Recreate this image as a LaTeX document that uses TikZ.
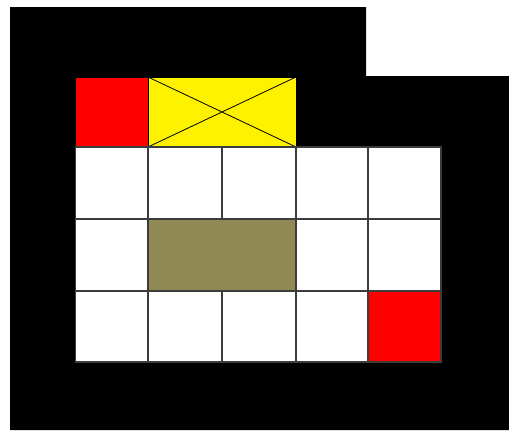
\documentclass[tikz,border=0pt]{standalone}
\definecolor{olive}{RGB}{145,137,83}
\definecolor{gridgray}{RGB}{60,60,60}
\begin{document}
\begin{tikzpicture}[x=1pt,y=-1pt,
  cell/.style={draw=gridgray,line width=1.6pt}]
\useasboundingbox (0,0) rectangle (509,431);
\fill[black] (10,7) -- (366,7) -- (366,76) -- (509,76) -- (509,430) -- (10,430) -- cycle;
% top row
\filldraw[fill=red,draw=black,line width=1pt] (75.5,77) rectangle (148,147);
\filldraw[fill=yellow,draw=black,line width=1pt] (148,77) rectangle (296,147);
\draw[black,line width=0.8pt] (148,77) -- (296,147) (148,147) -- (296,77);
% grid rows
\foreach \ya/\yb in {147/219,219/291,291/362}{
  \foreach \xa/\xb in {75.5/148,148/222,222/296,296/368,368/441}{
    \filldraw[cell,fill=white] (\xa,\ya) rectangle (\xb,\yb);
  }
}
\filldraw[cell,fill=olive] (148,219) rectangle (296,291);
\filldraw[cell,fill=red] (368,291) rectangle (441,362);
\end{tikzpicture}
\end{document}
